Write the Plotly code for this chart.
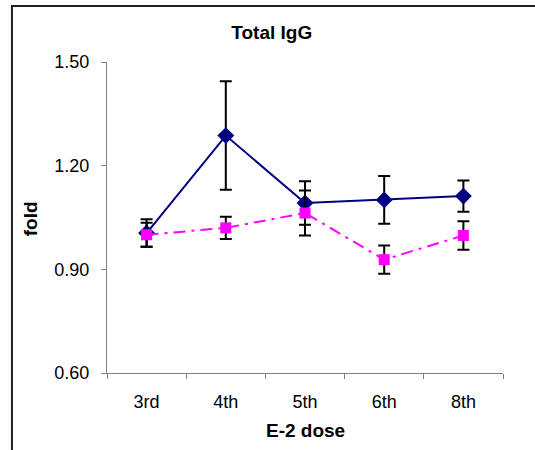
import plotly.graph_objs as go

# doses on the x axis
doses = ['3rd', '4th', '5th', '6th', '8th']

# blue series (diamonds) and its error
blue_fold = [1.005, 1.287, 1.092, 1.101, 1.112]
blue_err = [0.040, 0.157, 0.063, 0.069, 0.045]

# pink series (squares) and its error
pink_fold = [1.000, 1.020, 1.063, 0.928, 0.998]
pink_err = [0.035, 0.032, 0.065, 0.041, 0.041]

y_ticks = [0.60, 0.90, 1.20, 1.50]

FONT = 'Liberation Sans, Arial, sans-serif'

fig = go.Figure()
fig.add_trace(go.Scatter(
    x=doses, y=blue_fold,
    mode='lines+markers',
    line=dict(color='#000080', width=2),
    marker=dict(symbol='diamond', size=13, color='#000080'),
    error_y=dict(type='data', array=blue_err, visible=True,
                 color='black', thickness=2, width=6),
    showlegend=False,
))
fig.add_trace(go.Scatter(
    x=doses, y=pink_fold,
    mode='lines+markers',
    line=dict(color='#FF00FF', width=2, dash='12px,6px,3px,6px'),
    marker=dict(symbol='square', size=11, color='#FF00FF'),
    error_y=dict(type='data', array=pink_err, visible=True,
                 color='black', thickness=2, width=6),
    showlegend=False,
))

fig.update_layout(
    width=535, height=450,
    margin=dict(l=107, r=32, t=62, b=77),
    plot_bgcolor='white',
    paper_bgcolor='white',
    font=dict(family=FONT, color='black'),
    title=dict(text='<b>Total IgG</b>', x=0.508, xref='container',
               y=0.929, yref='container', yanchor='middle',
               font=dict(size=19, family=FONT)),
)

fig.update_xaxes(
    type='category', range=[-0.5, 4.5],
    showline=True, linecolor='#808080', linewidth=1,
    ticks='outside', tickson='boundaries', ticklen=5, tickcolor='#808080',
    ticklabelstandoff=12,
    tickfont=dict(size=18, family=FONT),
    showgrid=False, zeroline=False,
)
fig.update_yaxes(
    range=[0.60, 1.50], tickvals=y_ticks, tickformat='.2f',
    showline=True, linecolor='#808080', linewidth=1,
    ticks='outside', ticklen=5, tickcolor='#808080',
    ticklabelstandoff=8,
    tickfont=dict(size=18, family=FONT),
    showgrid=False, zeroline=False,
)

# axis titles
fig.add_annotation(text='<b>E-2 dose</b>', x=0.5, y=-0.184,
                   xref='paper', yref='paper', showarrow=False,
                   yanchor='middle', font=dict(size=19, family=FONT))
fig.add_annotation(text='<b>fold</b>', x=-0.194, y=0.495, textangle=-90,
                   xref='paper', yref='paper', showarrow=False,
                   xanchor='center', yanchor='middle',
                   font=dict(size=19, family=FONT))

# chart border: only the left and top edges fall inside the picture
fig.add_shape(type='rect', xref='paper', yref='paper',
              x0=-0.24, x1=1.2, y0=-0.3, y1=1.18,
              line=dict(color='#202020', width=2), layer='above')

# page has a default body margin; drop it so the figure sits at 0,0
fig.write_html("out.html",
               config={'displayModeBar': False},
               post_script="document.body.style.margin='0';"
                           "document.body.style.overflow='hidden';")
